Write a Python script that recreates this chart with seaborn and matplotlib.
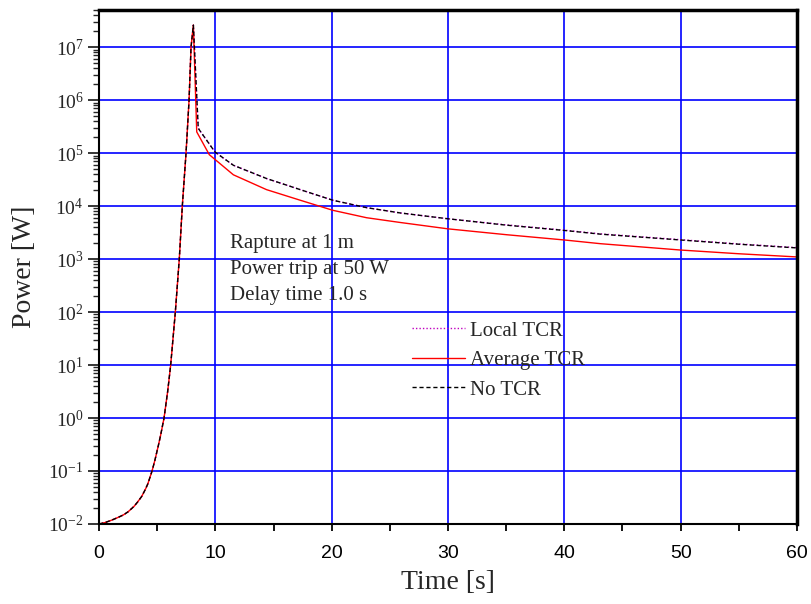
import numpy as np
import pandas as pd
import matplotlib
matplotlib.use("Agg")
import matplotlib.pyplot as plt
import matplotlib.ticker as mticker
import seaborn as sns

# Shared power excursion before the trip (time [s], log10 power [W])
rise_t = [0.0, 0.5, 1.0, 1.5, 2.09, 2.5, 3.0, 3.3, 3.67, 4.0, 4.2, 4.56, 4.8, 5.1, 5.3,
          5.59, 5.9, 6.16, 6.56, 6.9, 7.16, 7.48, 7.74, 7.91, 8.11]
rise_logp = [-2.0, -1.975, -1.935, -1.89, -1.83, -1.77, -1.67, -1.59, -1.48, -1.34, -1.24,
             -1.0, -0.8, -0.52, -0.32, 0.0, 0.5, 1.0, 2.0, 3.0, 4.0, 5.0, 6.0, 7.0, 7.415]

# Decay after the trip
notcr_t = [8.53, 8.68, 9.97, 11.55, 14.4, 17.3, 20.1, 23.0, 25.9, 30.0, 35.0, 40.0, 43.1, 50.0, 55.0, 60.0]
notcr_logp = [5.47, 5.42, 5.02, 4.77, 4.52, 4.31, 4.11, 3.97, 3.87, 3.76, 3.64, 3.54, 3.47, 3.36, 3.28, 3.21]

local_t = notcr_t
local_logp = [5.47, 5.42, 5.02, 4.77, 4.52, 4.31, 4.11, 3.97, 3.87, 3.76, 3.645, 3.545, 3.475, 3.365, 3.285, 3.215]

avg_t = [8.40, 9.48, 11.55, 14.4, 17.3, 20.1, 23.0, 25.9, 30.0, 35.0, 40.0, 43.1, 50.0, 55.0, 60.0]
avg_logp = [5.40, 4.97, 4.59, 4.31, 4.11, 3.92, 3.78, 3.69, 3.57, 3.46, 3.36, 3.29, 3.17, 3.10, 3.04]

labels = ["Local TCR", "Average TCR", "No TCR"]
notes = ["Rapture at 1 m", "Power trip at 50 W", "Delay time 1.0 s"]


def series(t, logp):
    tt = rise_t + list(t)
    pp = [10 ** v for v in rise_logp + list(logp)]
    return pd.DataFrame({"Time": tt, "Power": pp})


sns.set_style("white")
plt.rcParams["font.family"] = ["Liberation Serif", "DejaVu Serif"]
plt.rcParams["mathtext.fontset"] = "custom"
plt.rcParams["mathtext.rm"] = "Liberation Serif"
plt.rcParams["mathtext.it"] = "Liberation Serif:italic"
plt.rcParams["mathtext.default"] = "rm"

fig, ax = plt.subplots(figsize=(8.11, 6.04), dpi=100)
fig.subplots_adjust(left=0.1221, right=0.9827, top=0.9834, bottom=0.1325)

ax.set_yscale("log")

df_local = series(local_t, local_logp)
df_avg = series(avg_t, avg_logp)
df_no = series(notcr_t, notcr_logp)

sns.lineplot(data=df_local, x="Time", y="Power", ax=ax, color="#C000C0",
             linestyle=(0, (1, 1.5)), linewidth=1.0, label=labels[0], sort=False)
sns.lineplot(data=df_avg, x="Time", y="Power", ax=ax, color="#FF0000",
             linewidth=1.0, label=labels[1], sort=False)
sns.lineplot(data=df_no, x="Time", y="Power", ax=ax, color="black",
             linestyle=(0, (3, 2)), linewidth=1.0, label=labels[2], sort=False)

ax.set_xlim(0, 60)
ax.set_ylim(1e-2, 10 ** 7.7)

ax.xaxis.set_major_locator(mticker.MultipleLocator(10))
ax.xaxis.set_minor_locator(mticker.MultipleLocator(5))
ax.yaxis.set_major_locator(mticker.LogLocator(base=10, numticks=20))
ax.yaxis.set_minor_locator(mticker.LogLocator(base=10, subs=np.arange(2, 10), numticks=20))
ax.yaxis.set_minor_formatter(mticker.NullFormatter())
ax.yaxis.set_major_formatter(mticker.FuncFormatter(lambda v, p: r"$\mathrm{10^{%d}}$" % round(np.log10(v))))

ax.grid(True, which="major", color="#0000FF", linewidth=1.2)
ax.set_axisbelow(True)

ax.tick_params(axis="x", which="both", direction="out", length=5, width=1.3,
               labelsize=14, pad=10, bottom=True, colors="black")
ax.tick_params(axis="y", which="major", direction="out", length=8, width=1.3,
               labelsize=14, pad=3, left=True)
ax.tick_params(axis="y", which="minor", direction="out", length=4, width=1.0, left=True)
for lab in ax.get_xticklabels():
    lab.set_fontfamily("Liberation Sans")

for side in ["left", "bottom"]:
    ax.spines[side].set_linewidth(1.5)
    ax.spines[side].set_color("black")
for side in ["top", "right"]:
    ax.spines[side].set_linewidth(2.5)
    ax.spines[side].set_color("black")

ax.set_xlabel("Time [s]", fontsize=20, labelpad=6)
ax.set_ylabel("Power [W]", fontsize=20, labelpad=8)

for i, txt in enumerate(notes):
    ax.text(11.3, 10 ** (3.29 - 0.49 * i), txt, fontsize=15, va="center", ha="left")

leg = ax.legend(loc="upper left", bbox_to_anchor=(0.448, 0.395), frameon=False,
                fontsize=15, handlelength=2.55, handletextpad=0.25,
                labelspacing=0.48, borderpad=0, borderaxespad=0)

fig.savefig("out.png", dpi=100)
